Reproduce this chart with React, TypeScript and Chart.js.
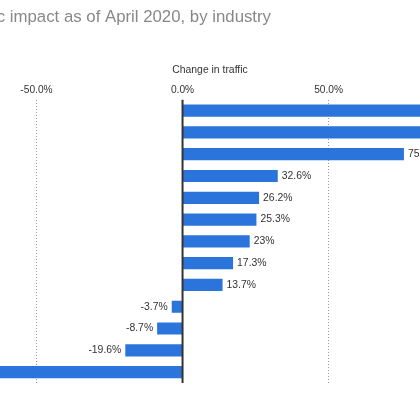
import { useEffect, useRef } from 'react'
import { Chart, registerables } from 'chart.js'

Chart.register(...registerables)

const FONT = "'Liberation Sans', Arial, sans-serif"

const TITLE = 'Coronavirus (COVID-19) website traffic impact as of April 2020, by industry'
const AXIS_TITLE = 'Change in traffic'

const industries = [
  'Online gaming',
  'Food delivery',
  'Streaming',
  'News & media',
  'Groceries',
  'Health',
  'Education',
  'Finance',
  'Software',
  'Retail',
  'Automotive',
  'Real estate',
  'Travel & tourism',
]
const changeInTraffic = [104.5, 88.2, 75.8, 32.6, 26.2, 25.3, 23, 17.3, 13.7, -3.7, -8.7, -19.6, -68.4]
const axisMin = -62.5
const axisMax = 81.3
const tickStep = 50

const extrasPlugin = {
  id: 'extras',
  afterDatasetsDraw(chart: any) {
    const { ctx, chartArea } = chart
    const x = chart.scales.x
    const zero = x.getPixelForValue(0)
    ctx.save()
    ctx.strokeStyle = '#333333'
    ctx.lineWidth = 2
    ctx.beginPath()
    ctx.moveTo(zero, chartArea.top)
    ctx.lineTo(zero, chartArea.bottom)
    ctx.stroke()

    ctx.font = `10.4px ${FONT}`
    ctx.fillStyle = '#333333'
    ctx.textBaseline = 'middle'
    const meta = chart.getDatasetMeta(0)
    meta.data.forEach((bar: any, i: number) => {
      const v = changeInTraffic[i]
      const label = `${v}%`
      if (v >= 0) {
        ctx.textAlign = 'left'
        ctx.fillText(label, bar.x + 4, bar.y)
      } else {
        ctx.textAlign = 'right'
        ctx.fillText(label, bar.x - 4, bar.y)
      }
    })

    ctx.font = `16.8px ${FONT}`
    ctx.fillStyle = '#888888'
    ctx.textAlign = 'right'
    ctx.fillText(TITLE, 271, 17)
    ctx.restore()
  },
}

export default function App() {
  const chartRef = useRef<HTMLCanvasElement>(null)
  const chartInstance = useRef<Chart | null>(null)

  useEffect(() => {
    if (!chartRef.current) return
    if (chartInstance.current) chartInstance.current.destroy()

    chartInstance.current = new Chart(chartRef.current, {
      type: 'bar',
      data: {
        labels: industries,
        datasets: [
          {
            label: AXIS_TITLE,
            data: changeInTraffic,
            backgroundColor: '#2a74dc',
            barPercentage: 0.56,
            categoryPercentage: 1,
          },
        ],
      },
      options: {
        indexAxis: 'y',
        animation: false,
        responsive: true,
        maintainAspectRatio: false,
        layout: { padding: { top: 63, bottom: 37, left: 0, right: 0 } },
        plugins: {
          legend: { display: false },
          title: { display: false },
          tooltip: { enabled: false },
        },
        scales: {
          x: {
            type: 'linear',
            position: 'top',
            min: axisMin,
            max: axisMax,
            title: {
              display: true,
              text: AXIS_TITLE,
              color: '#333333',
              font: { family: FONT, size: 10.4 },
              padding: { top: 1, bottom: 5 },
            },
            ticks: {
              stepSize: tickStep,
              includeBounds: false,
              padding: 3,
              color: '#333333',
              font: { family: FONT, size: 10.2 },
              callback: (v: any) => `${Number(v).toFixed(1)}%`,
            },
            grid: {
              drawTicks: false,
              color: (c: any) => (c.tick && c.tick.value === 0 ? 'rgba(0,0,0,0)' : '#999999'),
              lineWidth: 1,
            },
            border: { display: false, dash: [1, 2] },
          },
          y: {
            display: false,
          },
        },
      },
      plugins: [extrasPlugin],
    })

    return () => {
      if (chartInstance.current) {
        chartInstance.current.destroy()
        chartInstance.current = null
      }
    }
  }, [])

  return (
    <div style={{ position: 'absolute', left: 0, top: 0, width: 420, height: 420, background: '#fff' }}>
      <canvas ref={chartRef} />
    </div>
  )
}
